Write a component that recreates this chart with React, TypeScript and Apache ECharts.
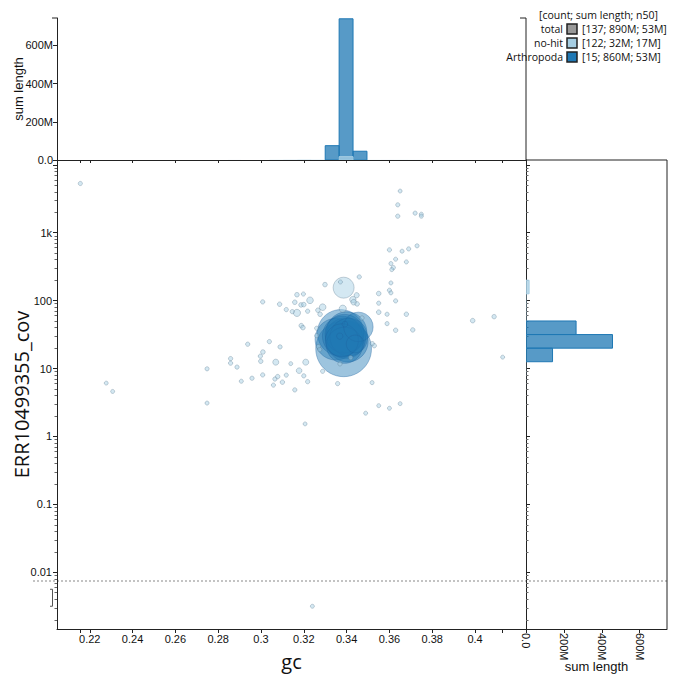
import React, { useEffect, useRef } from "react";
import * as echarts from "echarts";

// ---------- axis ranges ----------
const GC_MIN = 0.2047;
const GC_MAX = 0.4238;
const LOGCOV_MIN = -2.835;
const LOGCOV_MAX = 4.07;
const LEN_MAX = 744e6;
const ZERO_LOGCOV = -2.5; // where zero-coverage records are drawn
const ZERO_LINE_LOGCOV = -2.128; // dashed separator
const ZERO_BAND = [-2.25, -2.5];

// ---------- tick labels ----------
const gcTickLabels = [0.22, 0.24, 0.26, 0.28, 0.3, 0.32, 0.34, 0.36, 0.38, 0.4];
const covTickLabels = [0.01, 0.1, 1, 10, 100, 1000];
const lenTickLabels = [0, 200e6, 400e6, 600e6];

// ---------- histogram bins ----------
const GC_BIN_START = 0.2;
const GC_BIN_WIDTH = 0.0065;
const LOGCOV_BIN_START = 0.1;
const LOGCOV_BIN_WIDTH = 0.2;

// ---------- legend ----------
const legendNames = ["total", "no-hit", "Arthropoda"];
const legendCounts = [137, 122, 15];
const legendSpans = ["890M", "32M", "860M"];
const legendN50s = ["53M", "17M", "53M"];

// ---------- records: [gc, coverage, length (Mb)] ----------
const arthropoda: number[][] = [
  [0.3386, 19.5, 140],
  [0.3372, 33.5, 95],
  [0.335, 27, 75],
  [0.3405, 25, 72],
  [0.34, 34.5, 70],
  [0.3395, 28, 70],
  [0.338, 30, 68],
  [0.339, 32.5, 64],
  [0.341, 29, 60],
  [0.339, 22, 55],
  [0.3378, 26, 45],
  [0.3455, 41, 35],
  [0.344, 23, 11],
  [0.3368, 30, 0.5],
  [0.3392, 45, 0.3],
];

const noHit: number[][] = [
  [0.2156, 5300, 0.05], [0.2277, 6.1, 0.03], [0.2307, 4.6, 0.03],
  [0.365, 4100, 0.03], [0.3639, 2570, 0.05], [0.3639, 1750, 0.06],
  [0.372, 1940, 0.05], [0.3749, 1870, 0.04], [0.3749, 1750, 0.04],
  [0.36, 558, 0.06], [0.3659, 534, 0.04], [0.369, 577, 0.05],
  [0.3729, 640, 0.05], [0.3629, 407, 0.04], [0.3607, 351, 0.04],
  [0.3618, 306, 0.06], [0.3611, 286, 0.04], [0.3679, 371, 0.04],
  [0.3459, 223, 0.06], [0.3299, 172, 0.1], [0.3386, 155, 16],
  [0.3371, 188, 0.04], [0.3607, 182, 0.04], [0.36, 142, 0.05],
  [0.3607, 130, 0.04], [0.355, 127, 0.1], [0.3629, 99, 0.05],
  [0.355, 91.6, 0.05], [0.355, 67.5, 0.1], [0.3589, 63, 0.05],
  [0.3679, 63, 0.08], [0.3589, 45.8, 0.05], [0.3629, 36.6, 0.08],
  [0.3709, 37, 0.08], [0.3989, 50.7, 0.1], [0.4089, 58, 0.08],
  [0.4129, 14.7, 0.03], [0.3519, 6.2, 0.04], [0.355, 2.84, 0.03],
  [0.36, 2.6, 0.03], [0.365, 3.04, 0.03], [0.3489, 2.2, 0.03],
  [0.3358, 6.0, 0.06], [0.3369, 11.7, 0.06], [0.3419, 14.5, 0.06],
  [0.3529, 21.7, 0.08], [0.352, 23.3, 0.05], [0.3288, 9.1, 0.05],
  [0.3158, 4.84, 0.06], [0.3218, 6.4, 0.06], [0.32, 7.8, 0.06],
  [0.3178, 9.3, 0.3], [0.3209, 12.4, 0.4], [0.3139, 11.8, 0.03],
  [0.3118, 8.0, 0.05], [0.31, 6.3, 0.08], [0.3078, 7.6, 0.08],
  [0.3065, 7.0, 0.06], [0.3058, 5.7, 0.05], [0.3069, 12.4, 0.4],
  [0.3089, 20.8, 0.06], [0.3039, 24.9, 0.06], [0.3009, 17.5, 0.1],
  [0.2997, 15.2, 0.06], [0.2999, 12.8, 0.08], [0.3008, 8.05, 0.06],
  [0.2958, 7.2, 0.06], [0.2908, 6.5, 0.04], [0.2938, 22.8, 0.06],
  [0.2888, 10.5, 0.06], [0.2858, 14.0, 0.06], [0.2858, 12.0, 0.06],
  [0.2748, 9.9, 0.05], [0.2748, 3.1, 0.04], [0.3008, 95.7, 0.06],
  [0.3087, 88.5, 0.08], [0.3118, 73.7, 0.06], [0.3146, 68.8, 0.06],
  [0.3168, 65.9, 0.8], [0.3158, 94.6, 0.1], [0.3168, 122, 0.1],
  [0.3198, 125, 0.05], [0.3187, 86.4, 0.1], [0.32, 87.3, 0.1],
  [0.3218, 69.8, 0.06], [0.3229, 101, 0.6], [0.3266, 72.2, 0.1],
  [0.3276, 63, 0.1], [0.3288, 80, 0.6], [0.3188, 42.8, 0.1],
  [0.3196, 40, 0.1], [0.326, 39.2, 0.05], [0.326, 30.5, 0.05],
  [0.3268, 21, 0.06], [0.3274, 19, 0.06], [0.3382, 76, 0.8],
  [0.3429, 103.5, 0.5], [0.3449, 89.4, 0.1], [0.3447, 120, 0.2],
  [0.3433, 94.7, 0.3], [0.3472, 55.6, 0.06], [0.3206, 1.53, 0.03],
  [0.324, 0, 0.03],
];

// ---------- styles ----------
const ARTH = "#1f78b4";
const NOHIT = "#a6cee3";
const TOTAL = "#999999";
const AXIS = "#222";
const TICK_FONT = "Liberation Sans, Arial, sans-serif";
const TITLE_FONT = "Open Sans, sans-serif";

const MAIN = { left: 57, top: 160, width: 469, height: 469 };
const TOP = { left: 57, top: 18, width: 469, height: 142 };
const RIGHT = { left: 526, top: 160, width: 141, height: 469 };

const toPoint = (d: number[]) => [d[0], d[1] > 0 ? Math.log10(d[1]) : ZERO_LOGCOV, d[2]];
const radius = (lenMb: number) => 1.6 + 2.22 * Math.sqrt(lenMb);

function gcHistogram(records: number[][]) {
  const bins = new Map<number, number>();
  records.forEach((d) => {
    const i = Math.floor((d[0] - GC_BIN_START) / GC_BIN_WIDTH);
    bins.set(i, (bins.get(i) || 0) + d[2] * 1e6);
  });
  return [...bins.entries()].map(([i, v]) => [
    GC_BIN_START + i * GC_BIN_WIDTH,
    GC_BIN_START + (i + 1) * GC_BIN_WIDTH,
    v,
  ]);
}

function covHistogram(records: number[][]) {
  const bins = new Map<number, number>();
  records.forEach((d) => {
    if (d[1] <= 0) return;
    const i = Math.floor((Math.log10(d[1]) - LOGCOV_BIN_START) / LOGCOV_BIN_WIDTH);
    bins.set(i, (bins.get(i) || 0) + d[2] * 1e6);
  });
  return [...bins.entries()].map(([i, v]) => [
    LOGCOV_BIN_START + i * LOGCOV_BIN_WIDTH,
    LOGCOV_BIN_START + (i + 1) * LOGCOV_BIN_WIDTH,
    v,
  ]);
}

const covMajor = covTickLabels.map((c) => Math.log10(c)).concat([4]);
const covMinor: number[] = [];
for (let n = -3; n <= 4; n++) {
  for (let k = 2; k <= 9; k++) {
    const v = Math.log10(k * Math.pow(10, n));
    if (v >= LOGCOV_MIN && v <= LOGCOV_MAX) covMinor.push(v);
  }
}
const allGc = arthropoda.concat(noHit).map((d) => d[0]);
const gcTicks = gcTickLabels.concat([Math.min(...allGc), Math.max(...allGc)]);

const fmtGc = (v: number) => String(Number(v.toFixed(2)));
const fmtCov = (v: number) => {
  const c = Math.pow(10, v);
  return c >= 1000 ? Math.round(c / 1000) + "k" : String(Number(c.toPrecision(2)));
};
const fmtLen = (v: number) => (v === 0 ? "0.0" : Math.round(v / 1e6) + "M");

const tickText = { fontFamily: TICK_FONT, fontSize: 11, color: "#111" };

function histSeries(name: string, xIdx: number, yIdx: number, data: number[][], color: string, fill: string, vertical: boolean, strokeW: number) {
  return {
    type: "custom",
    name,
    xAxisIndex: xIdx,
    yAxisIndex: yIdx,
    silent: true,
    clip: true,
    encode: vertical ? { x: [0, 1], y: 2 } : { x: 2, y: [0, 1] },
    renderItem: (params: any, api: any) => {
      const a = api.value(0), b = api.value(1), v = api.value(2);
      let p0, p1;
      if (vertical) {
        p0 = api.coord([a, v]);
        p1 = api.coord([b, 0]);
      } else {
        p0 = api.coord([0, b]);
        p1 = api.coord([v, a]);
      }
      const w = p1[0] - p0[0];
      const h = p1[1] - p0[1];
      const thin = (vertical ? h : w) < 1.5;
      return {
        type: "rect",
        shape: { x: p0[0], y: p0[1], width: w, height: h },
        style: { fill, stroke: thin ? null : color, lineWidth: strokeW },
      };
    },
    data,
  };
}

export default function App() {
  const ref = useRef<HTMLDivElement>(null);
  useEffect(() => {
    if (!ref.current) return;
    const chart = echarts.init(ref.current, undefined, { renderer: "svg" });
    const arthPts = arthropoda.map(toPoint).sort((a, b) => b[2] - a[2]);
    const noHitPts = noHit.map(toPoint).sort((a, b) => b[2] - a[2]);

    const gridBase = { containLabel: false, outerBoundsMode: "none" };
    const option: any = {
      animation: false,
      grid: [
        { ...MAIN, ...gridBase },
        { ...TOP, ...gridBase },
        { ...RIGHT, ...gridBase },
      ],
      xAxis: [
        {
          gridIndex: 0, type: "value", min: GC_MIN, max: GC_MAX, position: "bottom",
          name: "gc", nameLocation: "middle", nameGap: 22, nameMoveOverlap: false,
          nameTextStyle: { fontFamily: TITLE_FONT, fontSize: 20, color: "#111" },
          axisLine: { show: true, onZero: false, lineStyle: { color: AXIS, width: 1 } },
          axisTick: { show: true, length: 4, customValues: gcTicks, lineStyle: { color: AXIS } },
          axisLabel: { ...tickText, customValues: gcTickLabels, formatter: fmtGc, margin: 4 },
          splitLine: { show: false },
        },
        {
          gridIndex: 1, type: "value", min: GC_MIN, max: GC_MAX, position: "bottom",
          axisLine: { show: true, onZero: false, lineStyle: { color: AXIS, width: 1 } },
          axisTick: { show: true, length: 3, customValues: gcTicks, lineStyle: { color: AXIS } },
          axisLabel: { show: false },
          splitLine: { show: false },
        },
        {
          gridIndex: 2, type: "value", min: 0, max: LEN_MAX, position: "bottom",
          name: "sum length", nameLocation: "middle", nameGap: 31, nameMoveOverlap: false,
          nameTextStyle: { fontFamily: TICK_FONT, fontSize: 13, color: "#111" },
          axisLine: { show: true, onZero: false, lineStyle: { color: AXIS, width: 1 } },
          axisTick: { show: true, length: 4, customValues: lenTickLabels, lineStyle: { color: AXIS } },
          axisLabel: { ...tickText, customValues: lenTickLabels, formatter: fmtLen, rotate: -90, margin: 4 },
          splitLine: { show: false },
        },
      ],
      yAxis: [
        {
          gridIndex: 0, type: "value", min: LOGCOV_MIN, max: LOGCOV_MAX, position: "left",
          name: "ERR10499355_cov", nameLocation: "middle", nameGap: 26, nameMoveOverlap: false,
          nameTextStyle: { fontFamily: TITLE_FONT, fontSize: 20, color: "#111" },
          axisLine: { show: true, onZero: false, lineStyle: { color: AXIS, width: 1 } },
          axisTick: { show: true, length: 4, customValues: covMajor, lineStyle: { color: AXIS } },
          axisLabel: { ...tickText, customValues: covTickLabels.map((c) => Math.log10(c)), formatter: fmtCov, margin: 5 },
          splitLine: { show: false },
        },
        {
          gridIndex: 0, type: "value", min: LOGCOV_MIN, max: LOGCOV_MAX, position: "left",
          axisLine: { show: false },
          axisTick: { show: true, length: 2.5, customValues: covMinor, lineStyle: { color: "#666" } },
          axisLabel: { show: false },
          splitLine: { show: false },
        },
        {
          gridIndex: 1, type: "value", min: 0, max: LEN_MAX, position: "left",
          name: "sum length", nameLocation: "middle", nameGap: 32, nameMoveOverlap: false,
          nameTextStyle: { fontFamily: TICK_FONT, fontSize: 13, color: "#111" },
          axisLine: { show: true, onZero: false, lineStyle: { color: AXIS, width: 1 } },
          axisTick: { show: true, length: 4, customValues: lenTickLabels, lineStyle: { color: AXIS } },
          axisLabel: { ...tickText, customValues: lenTickLabels, formatter: fmtLen, margin: 4 },
          splitLine: { show: false },
        },
        {
          gridIndex: 2, type: "value", min: LOGCOV_MIN, max: LOGCOV_MAX, position: "left",
          axisLine: { show: true, onZero: false, lineStyle: { color: AXIS, width: 1 } },
          axisTick: { show: true, inside: true, length: 4, customValues: covMajor, lineStyle: { color: AXIS } },
          axisLabel: { show: false },
          splitLine: { show: false },
        },
        {
          gridIndex: 2, type: "value", min: LOGCOV_MIN, max: LOGCOV_MAX, position: "left",
          axisLine: { show: false },
          axisTick: { show: true, inside: true, length: 2.5, customValues: covMinor, lineStyle: { color: "#666" } },
          axisLabel: { show: false },
          splitLine: { show: false },
        },
      ],
      series: [
        {
          type: "scatter", name: "Arthropoda", xAxisIndex: 0, yAxisIndex: 0,
          data: arthPts, symbolSize: (d: number[]) => 2 * radius(d[2]),
          itemStyle: { color: "rgba(31,120,180,0.55)", borderColor: "rgba(31,100,160,0.6)", borderWidth: 0.8 },
          silent: true,
        },
        {
          type: "scatter", name: "no-hit", xAxisIndex: 0, yAxisIndex: 0,
          data: noHitPts, symbolSize: (d: number[]) => 2 * radius(d[2]),
          itemStyle: { color: "rgba(166,206,227,0.6)", borderColor: "rgba(90,120,140,0.6)", borderWidth: 0.7 },
          silent: true,
        },
        histSeries("Arthropoda", 1, 2, gcHistogram(arthropoda), ARTH, "rgba(31,120,180,0.75)", true, 1),
        histSeries("no-hit", 1, 2, gcHistogram(noHit), NOHIT, "rgba(166,206,227,0.75)", true, 1),
        histSeries("Arthropoda", 2, 3, covHistogram(arthropoda), ARTH, "rgba(31,120,180,0.75)", false, 1),
        histSeries("no-hit", 2, 3, covHistogram(noHit), NOHIT, "rgba(166,206,227,0.75)", false, 1),
      ],
    };
    chart.setOption(option);

    const yZero = chart.convertToPixel({ yAxisIndex: 0 }, ZERO_LINE_LOGCOV) as number;
    const yb0 = chart.convertToPixel({ yAxisIndex: 0 }, ZERO_BAND[0]) as number;
    const yb1 = chart.convertToPixel({ yAxisIndex: 0 }, ZERO_BAND[1]) as number;
    const mainRight = MAIN.left + MAIN.width;
    const rightEdge = RIGHT.left + RIGHT.width;
    const bottom = MAIN.top + MAIN.height;
    const legendColors = [TOTAL, NOHIT, ARTH];
    const legendRowY = [29, 43, 57];
    const legendEls: any[] = [
      {
        type: "text", x: 658, y: 15,
        style: { text: "[count; sum length; n50]", align: "right", verticalAlign: "middle", fontFamily: TITLE_FONT, fontSize: 10.5, fill: "#111" },
      },
    ];
    legendNames.forEach((n, i) => {
      const y = legendRowY[i];
      legendEls.push(
        { type: "text", x: 563, y, style: { text: n, align: "right", verticalAlign: "middle", fontFamily: TITLE_FONT, fontSize: 10.5, fill: "#111" } },
        { type: "rect", shape: { x: 567, y: y - 5, width: 10, height: 10 }, style: { fill: legendColors[i], stroke: "#222", lineWidth: 1.5 } },
        { type: "text", x: 582, y, style: { text: `[${legendCounts[i]}; ${legendSpans[i]}; ${legendN50s[i]}]`, align: "left", verticalAlign: "middle", fontFamily: TITLE_FONT, fontSize: 10.5, fill: "#111" } }
      );
    });

    chart.setOption({
      graphic: [
        { type: "line", silent: true, shape: { x1: 33, y1: yZero, x2: rightEdge, y2: yZero }, style: { stroke: "#888", lineWidth: 1.2, lineDash: [2, 2] } },
        { type: "polyline", silent: true, shape: { points: [[50, yb0], [52.5, yb0], [52.5, yb1], [50, yb1]] }, style: { stroke: "#555", lineWidth: 1, fill: null } },
        { type: "polyline", silent: true, shape: { points: [[mainRight - 6, TOP.top], [mainRight, TOP.top], [mainRight, MAIN.top]] }, style: { stroke: AXIS, lineWidth: 1, fill: null } },
        { type: "polyline", silent: true, shape: { points: [[TOP.left - 5, TOP.top], [TOP.left, TOP.top]] }, style: { stroke: AXIS, lineWidth: 1, fill: null } },
        { type: "polyline", silent: true, shape: { points: [[mainRight, MAIN.top], [rightEdge, MAIN.top], [rightEdge, bottom]] }, style: { stroke: AXIS, lineWidth: 1, fill: null } },
        ...legendEls,
      ],
    });

    return () => chart.dispose();
  }, []);
  return <div ref={ref} style={{ width: 680, height: 687, position: "absolute", left: 0, top: 0 }} />;
}
